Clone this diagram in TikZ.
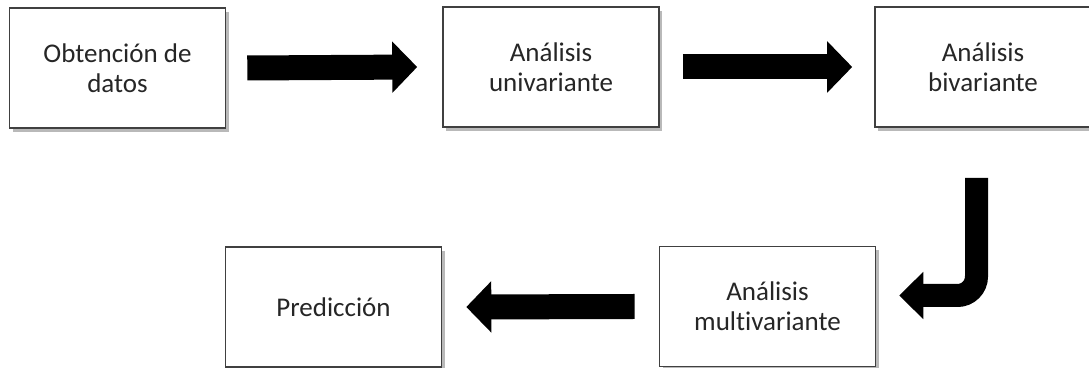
\documentclass[tikz,border=0pt]{standalone}
\usepackage{fontspec}
\setmainfont{Carlito}[Ligatures=NoCommon]
\usepackage{tikz}
\usetikzlibrary{arrows.meta,shadows,positioning}
\tikzset{every node/.append style={scale=1}}
\tikzset{
    etapa/.style={draw=black!75, line width=0.8pt, fill=white, minimum width=108pt, minimum height=60pt,
        align=center, font=\fontsize{13.5}{15}\selectfont, text=black!85,
        drop shadow={shadow xshift=1.5pt, shadow yshift=-1.8pt, fill=black!55}},
    flecha/.style={line width=12.5pt, -{Triangle[length=12.5pt,width=25pt]}},
    curva/.style={line width=11.5pt, rounded corners=9.5pt, -{Triangle[length=12pt,width=23pt]}}
}

\begin{document}
\begin{tikzpicture}[x=0.5pt,y=-0.5pt]
    \useasboundingbox (0,0) rectangle (1089,368);

    \node[etapa] (Obtencion) at (117.5,68) {Obtención de\\datos};
    \node[etapa] (Univariante) at (551,67) {Análisis\\univariante};
    \node[etapa] (Bivariante) at (983,67) {Análisis\\bivariante};
    \node[etapa] (Multivariante) at (767.5,306.5) {Análisis\\multivariante};
    \node[etapa] (Prediccion) at (333.5,307) {Predicción};

    \coordinate (Inicio Curva) at ([xshift=-3.25pt,yshift=-25pt]Bivariante.south);
    \coordinate (Fin Curva) at ([xshift=11.5pt,yshift=5.5pt]Multivariante.east);

    % flechas
    \draw[flecha] ([xshift=10.5pt]Obtencion.east) -- ([xshift=-12.5pt]Univariante.west);
    \draw[flecha] ([xshift=11.5pt]Univariante.east) -- ([xshift=-11pt]Bivariante.west);
    \draw[curva] (Inicio Curva) |- (Fin Curva);
    \draw[flecha] ([xshift=-12pt]Multivariante.west) -- ([xshift=12pt]Prediccion.east);
\end{tikzpicture}
\end{document}
